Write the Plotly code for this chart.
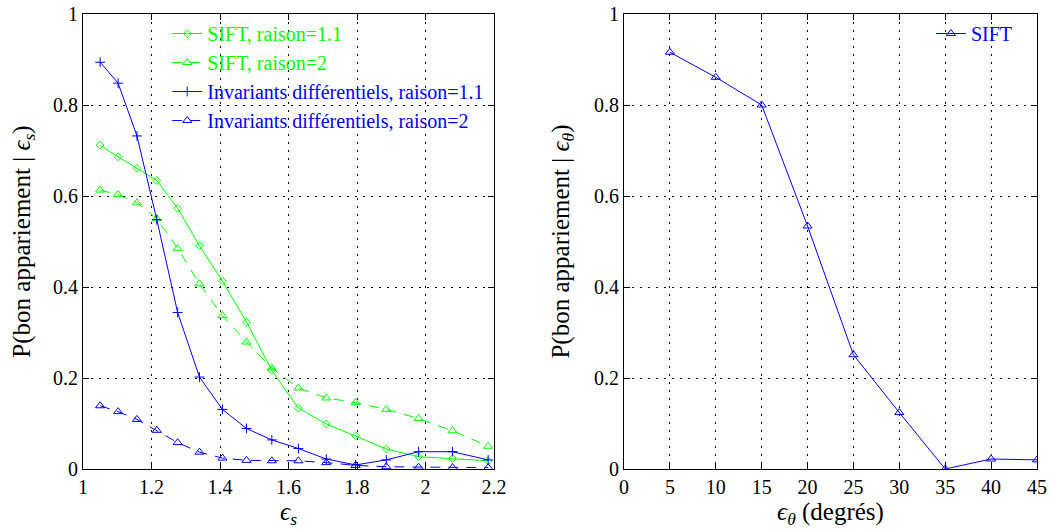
import plotly.graph_objects as go

# ---- data (left panel) ----
eps_s = [1.05, 1.1025, 1.1576, 1.2155, 1.2763, 1.3401, 1.4071, 1.4775,
         1.5513, 1.6289, 1.7103, 1.7959, 1.8856, 1.9799, 2.0789, 2.1829]
sift_r11 = [0.712, 0.686, 0.661, 0.634, 0.573, 0.491, 0.413, 0.323,
            0.217, 0.134, 0.099, 0.073, 0.044, 0.027, 0.023, 0.018]
sift_r2 = [0.613, 0.603, 0.585, 0.550, 0.485, 0.407, 0.337, 0.279,
           0.222, 0.178, 0.156, 0.146, 0.131, 0.111, 0.084, 0.050]
inv_r11 = [0.894, 0.848, 0.732, 0.548, 0.344, 0.202, 0.131, 0.089,
           0.064, 0.045, 0.022, 0.009, 0.020, 0.038, 0.038, 0.020]
inv_r2 = [0.139, 0.126, 0.109, 0.085, 0.058, 0.037, 0.024, 0.019,
          0.018, 0.018, 0.014, 0.008, 0.005, 0.004, 0.003, 0.003]

# ---- data (right panel) ----
eps_theta = [5, 10, 15, 20, 25, 30, 35, 40, 45]
sift_theta = [0.916, 0.861, 0.800, 0.534, 0.251, 0.124, 0.0, 0.022, 0.020]

GREEN = "#00ff00"
BLUE = "#0000ff"
FONT = "Liberation Serif"

fig = go.Figure()

def lab(txt, col):
    return f"<span style='color:{col}'>{txt}</span>"

fig.add_trace(go.Scatter(
    x=eps_s, y=sift_r11, mode="lines+markers", name=lab("SIFT, raison=1.1", GREEN),
    line=dict(color=GREEN, width=1),
    marker=dict(symbol="diamond-open", size=6, color=GREEN, line=dict(width=1, color=GREEN)),
    xaxis="x", yaxis="y", legend="legend"))
fig.add_trace(go.Scatter(
    x=eps_s, y=sift_r2, mode="lines+markers", name=lab("SIFT, raison=2", GREEN),
    line=dict(color=GREEN, width=1, dash="10px,8px"),
    marker=dict(symbol="triangle-up-open", size=8, color=GREEN, line=dict(width=1, color=GREEN)),
    xaxis="x", yaxis="y", legend="legend"))
fig.add_trace(go.Scatter(
    x=eps_s, y=inv_r11, mode="lines+markers", name=lab("Invariants différentiels, raison=1.1", BLUE),
    line=dict(color=BLUE, width=1),
    marker=dict(symbol="cross-thin", size=7, color=BLUE, line=dict(width=1, color=BLUE)),
    xaxis="x", yaxis="y", legend="legend"))
fig.add_trace(go.Scatter(
    x=eps_s, y=inv_r2, mode="lines+markers", name=lab("Invariants différentiels, raison=2", BLUE),
    line=dict(color=BLUE, width=1, dash="10px,8px"),
    marker=dict(symbol="triangle-up-open", size=8, color=BLUE, line=dict(width=1, color=BLUE)),
    xaxis="x", yaxis="y", legend="legend"))

fig.add_trace(go.Scatter(
    x=eps_theta, y=sift_theta, mode="lines+markers", name=lab("SIFT", BLUE),
    line=dict(color=BLUE, width=1),
    marker=dict(symbol="triangle-up-open", size=8, color=BLUE, line=dict(width=1, color=BLUE)),
    xaxis="x2", yaxis="y2", legend="legend2"))

W, H = 1053, 531
ML, MR, MT, MB = 83, 16, 14, 62
PW = W - ML - MR
left_px, right_px = (83, 494), (624, 1037)
xdom1 = [(left_px[0] - ML) / PW, (left_px[1] - ML) / PW]
xdom2 = [(right_px[0] - ML) / PW, (right_px[1] - ML) / PW]

axis_common = dict(
    showline=True, linecolor="black", linewidth=1, mirror="ticks",
    ticks="inside", ticklen=6, tickcolor="black", tickwidth=1,
    showgrid=True, gridcolor="black", griddash="2px,6px", gridwidth=1,
    zeroline=False, automargin=False,
    tickfont=dict(family=FONT, size=20, color="black"),
    title_font=dict(family=FONT, size=25, color="black"),
)

fig.update_layout(
    width=W, height=H,
    margin=dict(l=ML, r=MR, t=MT, b=MB, autoexpand=False),
    paper_bgcolor="white", plot_bgcolor="white",
    font=dict(family=FONT, size=20, color="black"),
    xaxis=dict(domain=xdom1, range=[1, 2.2], dtick=0.2, tick0=1, anchor="y",
               title=dict(text="<i>ϵ<sub>s</sub></i>", standoff=4), **axis_common),
    yaxis=dict(domain=[0, 1], range=[0, 1], dtick=0.2, anchor="x",
               title=dict(text="P(bon appariement | <i>ϵ<sub>s</sub></i>)", standoff=15),
               **axis_common),
    xaxis2=dict(domain=xdom2, range=[0, 45], dtick=5, anchor="y2",
                title=dict(text="<i>ϵ<sub>θ</sub></i> (degrés)", standoff=4), **axis_common),
    yaxis2=dict(domain=[0, 1], range=[0, 1], dtick=0.2, anchor="x2",
                title=dict(text="P(bon appariement | <i>ϵ<sub>θ</sub></i>)", standoff=17),
                **axis_common),
    legend=dict(x=xdom1[1] - 0.005, xanchor="right", y=1.0, yanchor="top",
                bgcolor="rgba(0,0,0,0)", font=dict(family=FONT, size=20),
                tracegroupgap=0),
    legend2=dict(x=xdom2[1] - 0.02, xanchor="right", y=1.0, yanchor="top",
                 bgcolor="rgba(0,0,0,0)", font=dict(family=FONT, size=20)),
    showlegend=True,
)

fig.write_html("out.html",
               config={"displayModeBar": False},
               post_script="document.body.style.margin='0';document.body.style.padding='0';")
